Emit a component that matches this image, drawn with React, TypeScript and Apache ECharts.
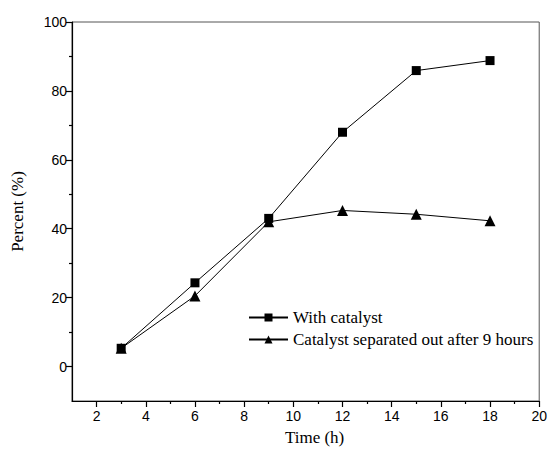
import React, { useEffect, useRef } from "react";
import * as echarts from "echarts";

const timeHours = [3, 6, 9, 12, 15, 18];
const withCatalyst = [5.3, 24.3, 43, 68, 85.9, 88.8];
const separatedAfter9h = [5.3, 20.5, 42, 45.3, 44.2, 42.3];
const seriesNames = ["With catalyst", "Catalyst separated out after 9 hours"];
const xMajorTicks = [2, 4, 6, 8, 10, 12, 14, 16, 18, 20];
const xMinorTicks = [3, 5, 7, 9, 11, 13, 15, 17, 19];
const yMajorTicks = [0, 20, 40, 60, 80, 100];
const yMinorTicks = [10, 30, 50, 70, 90];

export default function App() {
  const ref = useRef<HTMLDivElement>(null);
  useEffect(() => {
    if (!ref.current) return;
    const chart = echarts.init(ref.current, null, { renderer: "svg" });
    const sans = "Liberation Sans, Arial, sans-serif";
    const serif = "Liberation Serif, Times New Roman, serif";
    const lineCol = "#000";
    const baseX = {
      type: "value",
      min: 1,
      max: 20,
      interval: 1,
      splitLine: { show: false },
    };
    const baseY = {
      type: "value",
      min: -10,
      max: 100,
      interval: 10,
      splitLine: { show: false },
    };
    chart.setOption({
      animation: false,
      backgroundColor: "#fff",
      grid: {
        left: 72,
        top: 22,
        right: 9,
        bottom: 48,
        show: true,
        borderColor: "#555",
        borderWidth: 1,
      },
      legend: {
        orient: "vertical",
        left: 248,
        top: 309,
        padding: 0,
        itemWidth: 39,
        itemHeight: 10,
        itemGap: 5,
        textStyle: { fontFamily: serif, fontSize: 17, color: "#000" },
        data: seriesNames,
      },
      xAxis: [
        {
          ...baseX,
          position: "bottom",
          name: "Time (h)",
          nameLocation: "middle",
          nameGap: 28,
          nameTextStyle: { fontFamily: serif, fontSize: 17, color: "#000", padding: [0, 0, 0, 18] },
          axisLine: { show: true, onZero: false, lineStyle: { color: lineCol, width: 1.2 } },
          axisTick: { show: true, inside: false, length: 6, customValues: xMajorTicks, lineStyle: { color: lineCol, width: 1.2 } },
          axisLabel: { fontFamily: sans, fontSize: 14, color: "#000", margin: 8, customValues: xMajorTicks },
        },
        {
          ...baseX,
          position: "bottom",
          axisLine: { show: false, onZero: false },
          axisTick: { show: true, inside: false, length: 3, customValues: xMinorTicks, lineStyle: { color: lineCol, width: 1.2 } },
          axisLabel: { show: false },
        },
      ],
      yAxis: [
        {
          ...baseY,
          position: "left",
          name: "Percent (%)",
          nameLocation: "middle",
          nameGap: 46,
          nameTextStyle: { fontFamily: serif, fontSize: 17, color: "#000" },
          axisLine: { show: true, onZero: false, lineStyle: { color: lineCol, width: 1.2 } },
          axisTick: { show: true, inside: false, length: 6, customValues: yMajorTicks, lineStyle: { color: lineCol, width: 1.2 } },
          axisLabel: { fontFamily: sans, fontSize: 14, color: "#000", margin: 5, customValues: yMajorTicks },
        },
        {
          ...baseY,
          position: "left",
          axisLine: { show: false, onZero: false },
          axisTick: { show: true, inside: false, length: 3, customValues: yMinorTicks, lineStyle: { color: lineCol, width: 1.2 } },
          axisLabel: { show: false },
        },
      ],
      series: [
        {
          name: seriesNames[0],
          type: "line",
          data: timeHours.map((t, i) => [t, withCatalyst[i]]),
          symbol: "rect",
          symbolSize: 9,
          itemStyle: { color: "#000" },
          lineStyle: { color: "#000", width: 1 },
        },
        {
          name: seriesNames[1],
          type: "line",
          data: timeHours.map((t, i) => [t, separatedAfter9h[i]]),
          symbol: "triangle",
          symbolSize: 11,
          itemStyle: { color: "#000" },
          lineStyle: { color: "#000", width: 1 },
        },
      ],
    });
    return () => chart.dispose();
  }, []);
  return <div ref={ref} style={{ width: 550, height: 451, position: "absolute", left: 0, top: 0 }} />;
}
